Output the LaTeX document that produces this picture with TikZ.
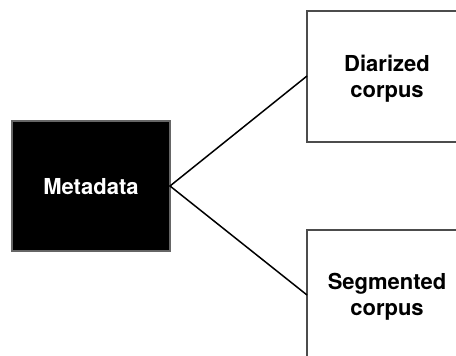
\documentclass[tikz,border=0pt]{standalone}
\usepackage{fontspec}
\setmainfont{TeX Gyre Heros}
\begin{document}
\begin{tikzpicture}[x=1pt,y=-1pt,
  label text/.style={font=\bfseries\fontsize{22}{26}\selectfont, align=center},
  darkbox/.style={fill=black, draw=black!60, line width=1.2pt},
  lightbox/.style={fill=white, draw=black!70, line width=1.2pt},
  link/.style={draw=black, line width=1.5pt}]
  \useasboundingbox (0,0) rectangle (456,356);
  \begin{scope}
    \clip (0,0) rectangle (456,356);
    % source box
    \draw[darkbox] (12,121) rectangle (170,251);
    \node[label text, text=white] (meta) at (91,187) {Metadata};
    % target boxes, running off the right and bottom edges
    \draw[lightbox] (307,11) rectangle (470,142);
    \node[label text] (diar) at (387,79) {Diarized\\corpus};
    \draw[lightbox] (307,230) rectangle (470,380);
    \node[label text] (segm) at (387,297) {Segmented\\corpus};
    % connector anchors
    \coordinate (fork) at (170,186);
    \coordinate (dIn) at (307,76);
    \coordinate (sIn) at (307,295);
    \draw[link] (dIn) -- (fork) -- (sIn);
  \end{scope}
\end{tikzpicture}
\end{document}
